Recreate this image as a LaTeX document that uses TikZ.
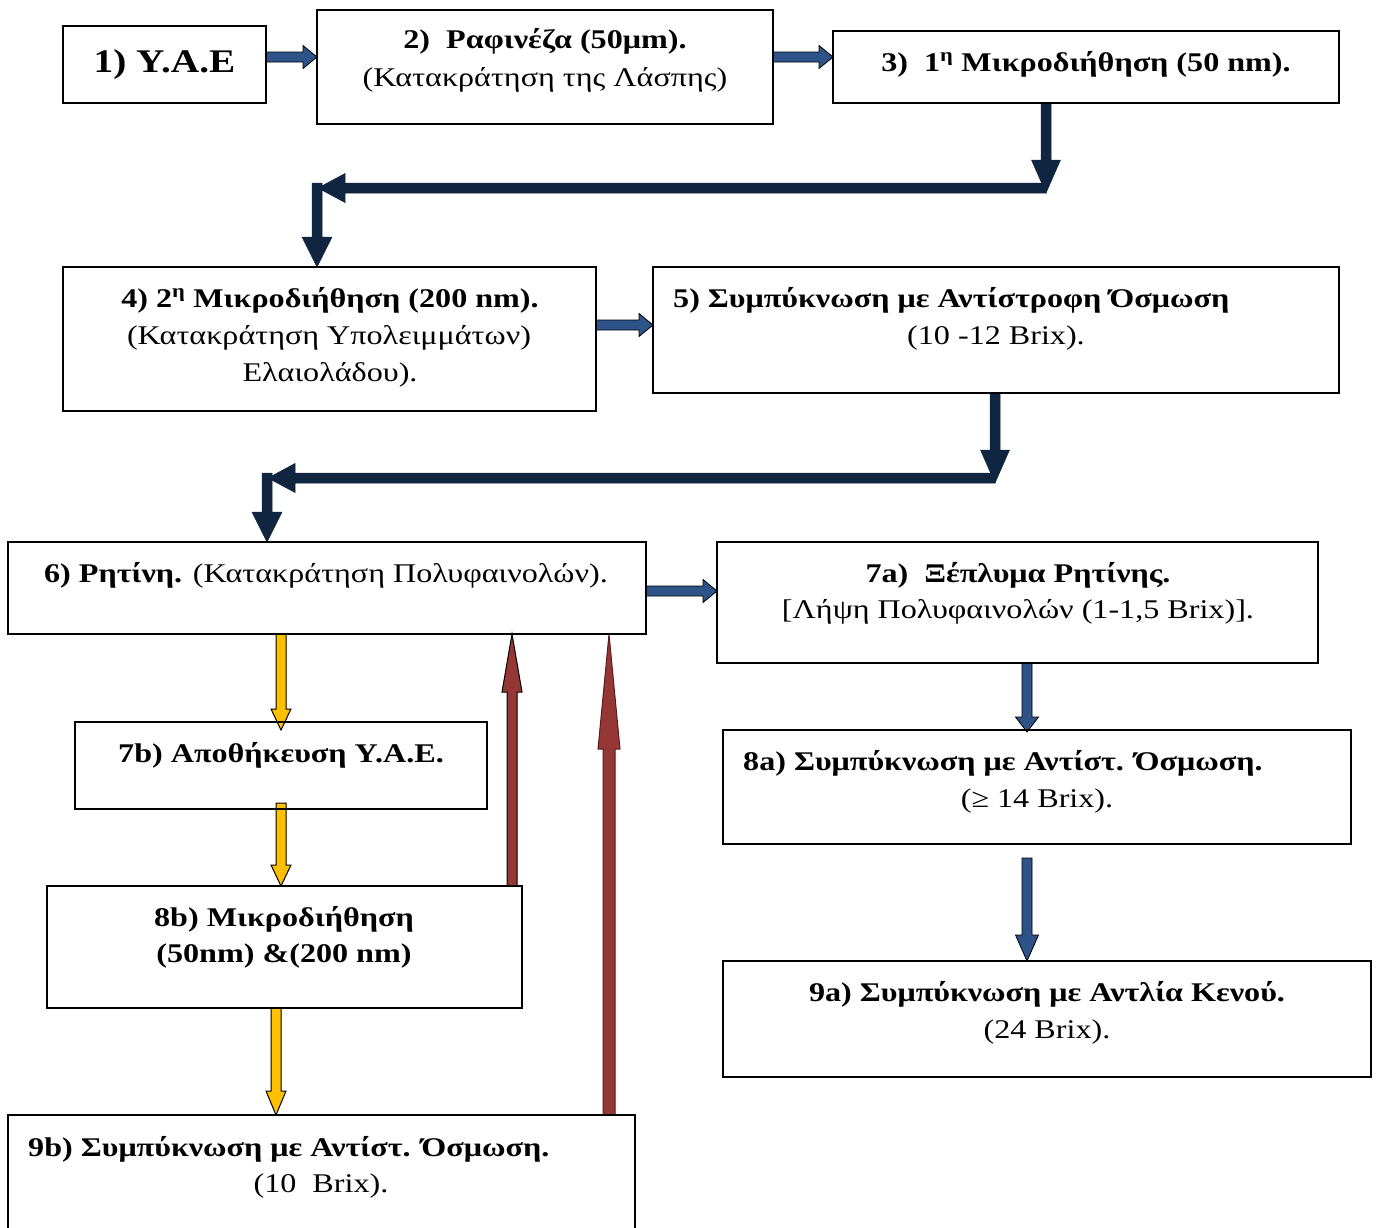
\documentclass[tikz,border=0pt]{standalone}
\usepackage{fontspec}
\setmainfont[FakeStretch=1.19]{Liberation Serif}
\usetikzlibrary{calc}
\definecolor{arrblue}{HTML}{2D5389}
\definecolor{arrnavy}{HTML}{10253F}
\definecolor{arryellow}{HTML}{FFC000}
\definecolor{arrred}{HTML}{953735}
\definecolor{arrredline}{HTML}{5A1E1E}
\newcommand{\blockarrow}[6]{%
  \coordinate (ba-h) at ($#3!#6pt!#2$);
  \filldraw[#1] ($#2!#4pt!90:#3$) -- ($(ba-h)!#4pt!90:#3$) -- ($(ba-h)!#5pt!90:#3$) -- #3
    -- ($(ba-h)!#5pt!-90:#3$) -- ($(ba-h)!#4pt!-90:#3$) -- ($#2!#4pt!-90:#3$) -- cycle;}
\begin{document}
\begin{tikzpicture}[x=1pt,y=-1pt,
  box/.style={draw=black, line width=1.6pt, inner sep=0pt, outer sep=0pt},
  txt/.style={anchor=base, inner sep=0pt, font=\fontsize{27}{31}\selectfont},
  txtl/.style={anchor=base west, inner sep=0pt, font=\fontsize{27}{31}\selectfont},
  bold/.style={font=\fontsize{27}{31}\selectfont\bfseries},
  bluearr/.style={fill=arrblue, draw=black, line width=0.8pt},
  navyarr/.style={fill=arrnavy, draw=arrnavy, line width=0.5pt},
  yelarr/.style={fill=arryellow, draw=black, line width=1pt},
  redarr/.style={fill=arrred, draw=black, line width=1pt},
  redarrb/.style={fill=arrred, draw=arrredline, line width=1pt}]
\useasboundingbox (0,0) rectangle (1378,1227);
\clip (0,0) rectangle (1378,1227);
% boxes
\node[box, minimum width=203, minimum height=77] (n1) at (164.5,64.5) {};
\node[box, minimum width=456, minimum height=114] (n2) at (545,67) {};
\node[box, minimum width=506, minimum height=72] (n3) at (1086,67) {};
\node[box, minimum width=533, minimum height=144] (n4) at (329.5,339) {};
\node[box, minimum width=686, minimum height=126] (n5) at (996,330) {};
\node[box, minimum width=638, minimum height=92] (n6) at (327,588) {};
\node[box, minimum width=601, minimum height=121] (n7a) at (1017.5,602.5) {};
\node[box, minimum width=412, minimum height=87] (n7b) at (281,765.5) {};
\node[box, minimum width=475, minimum height=122] (n8b) at (284.5,947) {};
\node[box, minimum width=627, minimum height=130] (n9b) at (321.5,1180) {};
\node[box, minimum width=628, minimum height=114] (n8a) at (1037,787) {};
\node[box, minimum width=648, minimum height=116] (n9a) at (1047,1019) {};
% texts
\node[txt, font=\fontsize{33}{38}\selectfont\bfseries] (t1) at (164.5,72) {1) Υ.Α.Ε};
\node[txt, bold] (t2a) at (545,48) {2)\ \ Ραφινέζα (50μm).};
\node[txt] (t2b) at (545,86) {(Κατακράτηση της Λάσπης)};
\node[txt, bold] (t3) at (1086,71) {3)\ \ 1\textsuperscript{η} Μικροδιήθηση (50 nm).};
\node[txt, bold] (t4a) at (330,307) {4) 2\textsuperscript{η} Μικροδιήθηση (200 nm).};
\node[txt] (t4b) at (329,344) {(Κατακράτηση Υπολειμμάτων)};
\node[txt] (t4c) at (330,381) {Ελαιολάδου).};
\node[txtl, bold] (t5a) at (673,307) {5) Συμπύκνωση με Αντίστροφη Όσμωση};
\node[txt] (t5b) at (996,344) {(10 -12 Brix).};
\node[txt] (t6) at (326,582) {\textbf{6) Ρητίνη.} (Κατακράτηση Πολυφαινολών).};
\node[txt, bold] (t7a) at (1018,582) {7a)\ \ Ξέπλυμα Ρητίνης.};
\node[txt] (t7ab) at (1018,618) {[Λήψη Πολυφαινολών (1-1,5 Brix)].};
\node[txt, bold] (t7b) at (281,762) {7b) Αποθήκευση Υ.Α.Ε.};
\node[txt, bold] (t8b) at (284,926) {8b) Μικροδιήθηση};
\node[txt, bold] (t8bb) at (284,962) {(50nm) \&(200 nm)};
\node[txtl, bold] (t9b) at (28,1156) {9b) Συμπύκνωση με Αντίστ. Όσμωση.};
\node[txt] (t9bb) at (321,1192) {(10\ \ Brix).};
\node[txtl, bold] (t8a) at (743,770) {8a) Συμπύκνωση με Αντίστ. Όσμωση.};
\node[txt] (t8ab) at (1037,807) {(≥ 14 Brix).};
\node[txt, bold] (t9a) at (1047,1001) {9a) Συμπύκνωση με Αντλία Κενού.};
\node[txt] (t9ab) at (1047,1038) {(24 Brix).};
% connector coordinates
\coordinate (a12s) at (n1.east |- 0,57);
\coordinate (a12e) at (n2.west |- 0,57);
\coordinate (a23s) at (n2.east |- 0,57);
\coordinate (a23e) at (n3.west |- 0,57);
\coordinate (b1s) at (1046,0 |- n3.south);
\coordinate (b1t) at (1046,193);
\coordinate (b1hs) at (1046,188);
\coordinate (b1ht) at (318,188);
\coordinate (b1vs) at (317,183);
\coordinate (b1ve) at (317,0 |- n4.north);
\coordinate (a45s) at (n4.east |- 0,325);
\coordinate (a45e) at (n5.west |- 0,325);
\coordinate (b2s) at (995,0 |- n5.south);
\coordinate (b2t) at (995,483);
\coordinate (b2hs) at (995,478);
\coordinate (b2ht) at (268,478);
\coordinate (b2vs) at (267,473);
\coordinate (b2ve) at (267,0 |- n6.north);
\coordinate (a67s) at (n6.east |- 0,591);
\coordinate (a67e) at (n7a.west |- 0,591);
\coordinate (y1s) at (281,0 |- n6.south);
\coordinate (y1e) at ($(281,0 |- n7b.north)+(0,8)$);
\coordinate (y2s) at ($(281,0 |- n7b.south)+(0,-6)$);
\coordinate (y2e) at (281,0 |- n8b.north);
\coordinate (y3s) at (276,0 |- n8b.south);
\coordinate (y3e) at (276,0 |- n9b.north);
\coordinate (r1s) at (512,0 |- n8b.north);
\coordinate (r1e) at (512,0 |- n6.south);
\coordinate (r2s) at (609,0 |- n9b.north);
\coordinate (r2e) at (609,0 |- n6.south);
\coordinate (c1s) at (1027,0 |- n7a.south);
\coordinate (c1e) at ($(1027,0 |- n8a.north)+(0,2)$);
\coordinate (c2s) at ($(1027,0 |- n8a.south)+(0,14)$);
\coordinate (c2e) at (1027,0 |- n9a.north);
% arrows
\blockarrow{bluearr}{(a12s)}{(a12e)}{5}{11.5}{14}
\blockarrow{bluearr}{(a23s)}{(a23e)}{5}{11.5}{14}
\blockarrow{navyarr}{(b1s)}{(b1t)}{5}{14.5}{33}
\blockarrow{navyarr}{(b1hs)}{(b1ht)}{5}{14.5}{27}
\blockarrow{navyarr}{(b1vs)}{(b1ve)}{5}{15}{30}
\blockarrow{bluearr}{(a45s)}{(a45e)}{5}{11.5}{14}
\blockarrow{navyarr}{(b2s)}{(b2t)}{5}{14.5}{33}
\blockarrow{navyarr}{(b2hs)}{(b2ht)}{5}{14.5}{27}
\blockarrow{navyarr}{(b2vs)}{(b2ve)}{5}{15}{30}
\blockarrow{bluearr}{(a67s)}{(a67e)}{5}{11.5}{14}
\blockarrow{yelarr}{(y1s)}{(y1e)}{5}{10}{21}
\blockarrow{yelarr}{(y2s)}{(y2e)}{5}{10}{21}
\blockarrow{yelarr}{(y3s)}{(y3e)}{5}{10}{24}
\blockarrow{redarr}{(r1s)}{(r1e)}{5}{10}{58}
\blockarrow{redarrb}{(r2s)}{(r2e)}{6}{11}{115}
\blockarrow{bluearr}{(c1s)}{(c1e)}{5}{11.5}{15}
\blockarrow{bluearr}{(c2s)}{(c2e)}{5}{11.5}{26}
% redraw box borders on top
\foreach \n in {n1,n2,n3,n4,n5,n6,n7a,n7b,n8b,n9b,n8a,n9a}
  \draw[line width=1.6pt] (\n.north west) rectangle (\n.south east);
\end{tikzpicture}
\end{document}
